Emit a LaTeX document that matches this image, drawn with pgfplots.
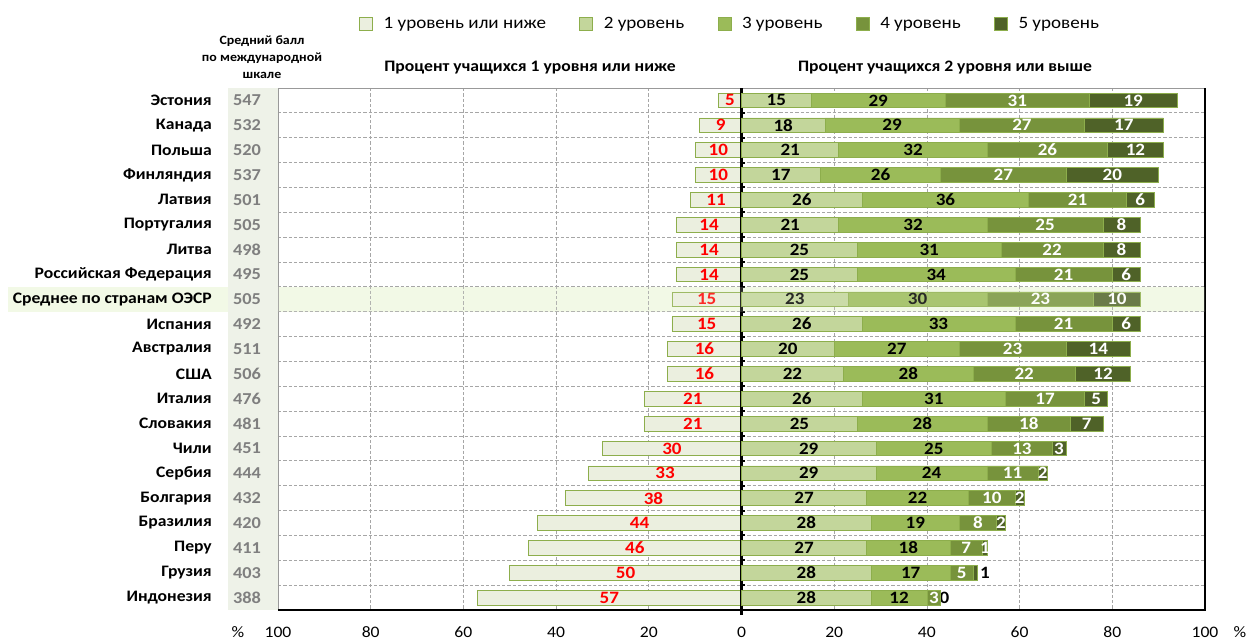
\documentclass[border=0pt]{standalone}
\usepackage{fontspec}
\setmainfont{Carlito}[FakeStretch=1.1]
\usepackage{pgfplots}
\usepackage{pgfplotstable}
\pgfplotsset{compat=1.18}
\definecolor{cA}{HTML}{EBEFDF}
\definecolor{cB}{HTML}{C3D69B}
\definecolor{cC}{HTML}{9BBB59}
\definecolor{cD}{HTML}{77933C}
\definecolor{cE}{HTML}{4F6228}
\definecolor{cBord}{HTML}{8DAE4C}
\definecolor{scorecol}{HTML}{EEF2E8}
\definecolor{band}{HTML}{F2F9E6}
\definecolor{gridc}{HTML}{A6A6A6}
\definecolor{scoretxt}{HTML}{7F7F7F}

\pgfplotstableread[col sep=comma]{
country,score,l1,l2,l3,l4,l5,t5
Эстония,547,5,15,29,31,19,19
Канада,532,9,18,29,27,17,17
Польша,520,10,21,32,26,12,12
Финляндия,537,10,17,26,27,20,20
Латвия,501,11,26,36,21,6,6
Португалия,505,14,21,32,25,8,8
Литва,498,14,25,31,22,8,8
Российская Федерация,495,14,25,34,21,6,6
Среднее по странам ОЭСР,505,15,23,30,23,10,10
Испания,492,15,26,33,21,6,6
Австралия,511,16,20,27,23,14,14
США,506,16,22,28,22,12,12
Италия,476,21,26,31,17,5,5
Словакия,481,21,25,28,18,7,7
Чили,451,30,29,25,13,3,3
Сербия,444,33,29,24,11,2,2
Болгария,432,38,27,22,10,2,2
Бразилия,420,44,28,19,8,2,2
Перу,411,46,27,18,7,1,1
Грузия,403,50,28,17,5,1,{}
Индонезия,388,57,28,12,3,0,{}
}\data

\newcommand\lblfont{\bfseries\fontsize{13}{13}\selectfont}

\pgfplotsset{
  common/.style={
    at={(208.5pt,24pt)}, anchor=south west,
    scale only axis, width=695.25pt, height=391.5pt,
    xmin=-100, xmax=100, ymin=-0.5, ymax=20.5, y dir=reverse,
    tick style={draw=none},
  },
  seg/.style={
    fill=#1, draw=cBord, line width=0.6pt,
    nodes near coords, point meta=explicit symbolic,
    every node near coord/.append style={anchor=center, font=\lblfont},
  },
}

\begin{document}
\begin{tikzpicture}
\path[use as bounding box] (0,0) rectangle (935.25pt,481.5pt);
% background band for OECD row and score column
\fill[band] (6pt,247.7pt) rectangle (903.75pt,266.35pt);
\fill[scorecol] (171pt,24pt) rectangle (208.5pt,415.5pt);

\begin{axis}[common,
  axis line style={draw=gray!80},
  xtick={-100,-80,...,100},
  xticklabels={100,80,60,40,20,0,20,40,60,80,100},
  xticklabel style={font=\fontsize{12}{12}\selectfont, anchor=center, yshift=-16.5pt},
  ytick={0,...,20},
  yticklabels from table={\data}{country},
  yticklabel style={font=\bfseries\fontsize{12}{12}\selectfont, anchor=east, inner sep=0pt, xshift=-49.5pt},
  minor ytick={0.5,1.5,...,19.5},
  xmajorgrids, yminorgrids,
  major grid style={gridc, dash pattern=on 2.5pt off 1.5pt, line width=0.6pt},
  minor grid style={gridc, dash pattern=on 2.5pt off 1.5pt, line width=0.6pt},
  legend image code/.code={\draw[#1, line width=0.6pt] (0pt,-4.9pt) rectangle (9.75pt,4.9pt);},
  legend style={at={(0.083,1.1226)}, anchor=west, draw=none, fill=none,
    legend columns=5, font=\fontsize{13}{13}\selectfont,
    /tikz/every odd column/.append style={column sep=6pt},
    /tikz/every even column/.append style={column sep=23pt}},
  legend cell align=left,
]
\addlegendimage{fill=cA, draw=cBord}\addlegendentry{1 уровень или ниже}
\addlegendimage{fill=cB, draw=cBord}\addlegendentry{2 уровень}
\addlegendimage{fill=cC, draw=cBord}\addlegendentry{3 уровень}
\addlegendimage{fill=cD, draw=cBord}\addlegendentry{4 уровень}
\addlegendimage{fill=cE, draw=cBord}\addlegendentry{5 уровень}

\addplot[xbar, bar width=11pt, fill=cA, draw=cBord, line width=0.6pt,
  nodes near coords, point meta=explicit symbolic,
  visualization depends on={\thisrow{l1} \as \rawv},
  every node near coord/.append style={anchor=center, text=red, font=\lblfont,
    shift={(axis direction cs:\rawv/2,0)}}]
  table[x expr=-\thisrow{l1}, y expr=\coordindex, meta=l1]{\data};

% labels outside the tiny level-5 bars
\addplot[draw=none, mark=none, nodes near coords, point meta=explicit symbolic,
  every node near coord/.append style={anchor=center, text=black, font=\lblfont}]
  coordinates {(52.5,19)[1] (43.8,20)[0]};
\end{axis}

\begin{axis}[common,
  xbar stacked, bar width=11pt,
  axis line style={draw=none},
  xtick=\empty,
  ytick={0,...,20},
  yticklabels from table={\data}{score},
  yticklabel style={font=\bfseries\fontsize{12.5}{12.5}\selectfont, text=scoretxt, anchor=center, xshift=-23.25pt},
  clip=false,
]
\addplot[seg=cB, every node near coord/.append style={text=black}]
  table[x=l2, y expr=\coordindex, meta=l2]{\data};
\addplot[seg=cC, every node near coord/.append style={text=black}]
  table[x=l3, y expr=\coordindex, meta=l3]{\data};
\addplot[seg=cD, every node near coord/.append style={text=white}]
  table[x=l4, y expr=\coordindex, meta=l4]{\data};
\addplot[seg=cE, every node near coord/.append style={text=white}]
  table[x=l5, y expr=\coordindex, meta=t5]{\data};

\draw[black, line width=2.25pt] (axis cs:0,-0.5) -- (axis cs:0,20.7);
\pgfplotsinvokeforeach{0.5,1.5,...,19.5}{
  \draw[black, line width=1.5pt] (axis cs:0,#1) -- (axis cs:0.8,#1);
}
\draw[black, line width=1pt] (axis cs:100,-0.5) -- (axis cs:100,20.5) -- (axis cs:-100,20.5);
\end{axis}

% lighten the OECD row
\fill[band, opacity=0.17] (208.5pt,247.7pt) rectangle (903.75pt,266.35pt);

\node[font=\bfseries\fontsize{9.5}{12.75}\selectfont, align=center] at (196.5pt,438.75pt)
  {Средний балл\\по международной\\шкале};
\node[font=\bfseries\fontsize{12}{12}\selectfont] at (397.5pt,430.5pt) {Процент учащихся 1 уровня или ниже};
\node[font=\bfseries\fontsize{12}{12}\selectfont] at (708.75pt,430.5pt) {Процент учащихся 2 уровня или выше};
\node[font=\fontsize{12}{12}\selectfont] at (178.5pt,7.5pt) {\%};
\node[font=\fontsize{12}{12}\selectfont] at (930pt,7.5pt) {\%};
\end{tikzpicture}
\end{document}
